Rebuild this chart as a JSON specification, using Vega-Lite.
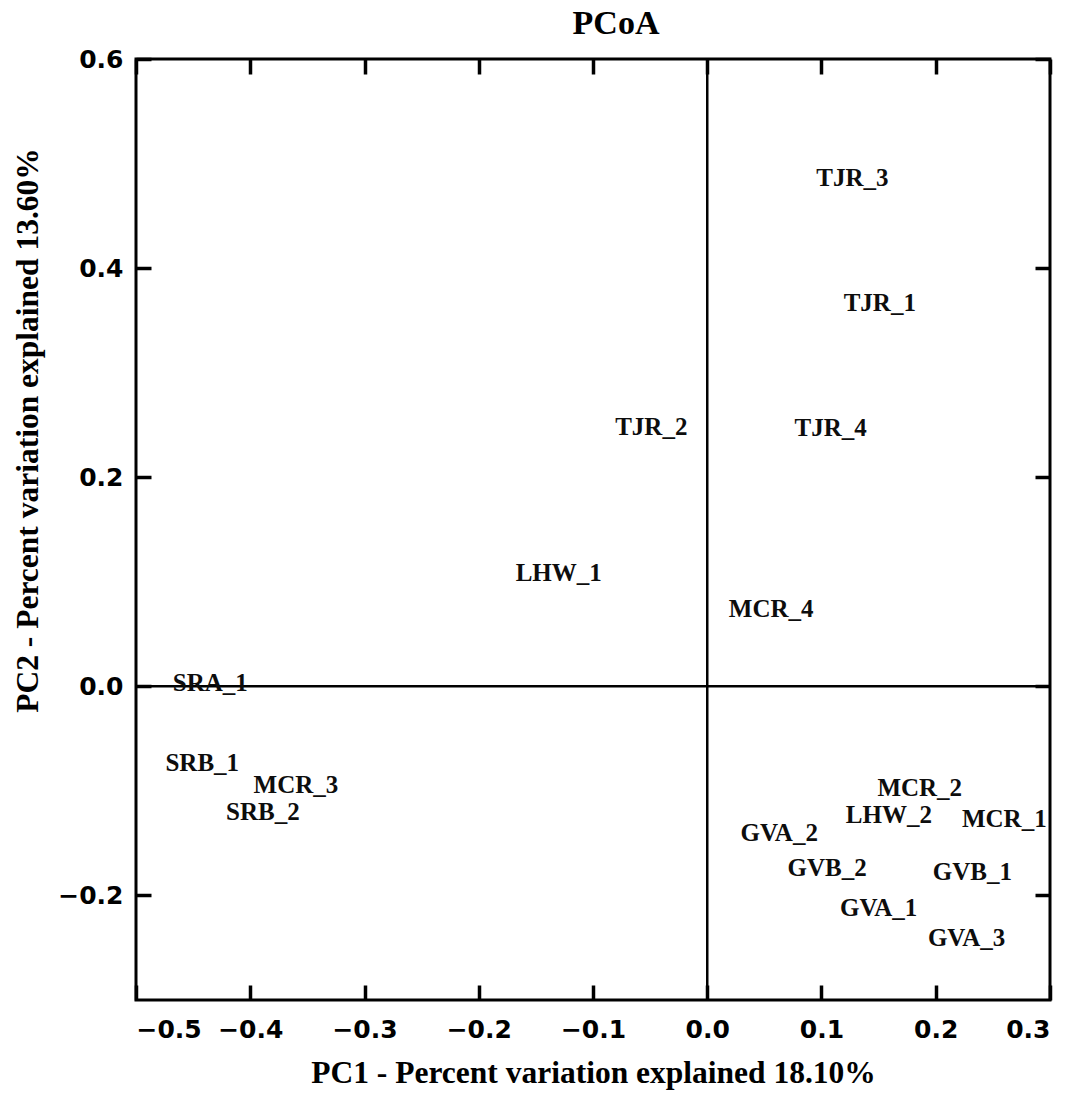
{
  "$schema": "https://vega.github.io/schema/vega-lite/v6.json",
  "width": 914,
  "height": 941,
  "autosize": {"type": "none"},
  "padding": {"left": 136, "top": 59, "right": 31, "bottom": 94},
  "background": "white",
  "config": {
    "view": {"stroke": "black", "strokeWidth": 3},
    "axis": {
      "domain": false,
      "grid": false,
      "tickColor": "black",
      "tickWidth": 3.5,
      "tickSize": -15,
      "labelFont": "DejaVu Sans",
      "labelFontWeight": "bold",
      "labelFontSize": 25,
      "labelColor": "black",
      "titleFont": "Liberation Serif",
      "titleFontWeight": "bold",
      "titleFontSize": 31.5,
      "titleColor": "black"
    }
  },
  "title": {
    "text": "PCoA",
    "font": "Liberation Serif",
    "fontSize": 34,
    "fontWeight": "bold",
    "color": "black",
    "anchor": "middle",
    "dx": 23,
    "offset": 6
  },
  "datasets": {
    "samples": [
      {"sample": "TJR_3", "pc1": 0.127, "pc2": 0.486},
      {"sample": "TJR_1", "pc1": 0.151, "pc2": 0.367},
      {"sample": "TJR_2", "pc1": -0.049, "pc2": 0.248},
      {"sample": "TJR_4", "pc1": 0.108, "pc2": 0.247},
      {"sample": "LHW_1", "pc1": -0.130, "pc2": 0.108},
      {"sample": "MCR_4", "pc1": 0.056, "pc2": 0.074},
      {"sample": "SRA_1", "pc1": -0.435, "pc2": 0.003},
      {"sample": "SRB_1", "pc1": -0.442, "pc2": -0.073},
      {"sample": "MCR_3", "pc1": -0.360, "pc2": -0.094},
      {"sample": "SRB_2", "pc1": -0.389, "pc2": -0.120},
      {"sample": "MCR_2", "pc1": 0.186, "pc2": -0.097},
      {"sample": "LHW_2", "pc1": 0.159, "pc2": -0.123},
      {"sample": "MCR_1", "pc1": 0.260, "pc2": -0.127},
      {"sample": "GVA_2", "pc1": 0.063, "pc2": -0.140},
      {"sample": "GVB_2", "pc1": 0.105, "pc2": -0.174},
      {"sample": "GVB_1", "pc1": 0.232, "pc2": -0.178},
      {"sample": "GVA_1", "pc1": 0.150, "pc2": -0.212},
      {"sample": "GVA_3", "pc1": 0.227, "pc2": -0.241}
    ]
  },
  "layer": [
    {
      "data": {"values": [{}]},
      "mark": {"type": "rule", "color": "black", "strokeWidth": 2.5},
      "encoding": {
        "x": {
          "datum": 0,
          "type": "quantitative",
          "scale": {"domain": [-0.5, 0.3], "nice": false, "zero": false},
          "axis": {
            "orient": "top",
            "values": [-0.5, -0.4, -0.3, -0.2, -0.1, 0, 0.1, 0.2, 0.3],
            "labels": false,
            "title": null
          }
        }
      }
    },
    {
      "data": {"values": [{}]},
      "mark": {"type": "rule", "color": "black", "strokeWidth": 2.5},
      "encoding": {
        "y": {
          "datum": 0,
          "type": "quantitative",
          "scale": {"domain": [-0.3, 0.6], "nice": false, "zero": false},
          "axis": {
            "orient": "right",
            "values": [-0.2, 0, 0.2, 0.4, 0.6],
            "labels": false,
            "title": null
          }
        }
      }
    },
    {
      "data": {"name": "samples"},
      "mark": {
        "type": "text",
        "font": "Liberation Serif",
        "fontWeight": "bold",
        "fontSize": 25,
        "color": "#0d0d0d",
        "align": "center",
        "baseline": "middle"
      },
      "encoding": {
        "x": {
          "field": "pc1",
          "type": "quantitative",
          "scale": {"domain": [-0.5, 0.3], "nice": false, "zero": false},
          "axis": {
            "orient": "bottom",
            "values": [-0.5, -0.4, -0.3, -0.2, -0.1, 0, 0.1, 0.2, 0.3],
            "format": ".1f",
            "labelPadding": 32,
            "title": "PC1 - Percent variation explained 18.10%",
            "titleBaseline": "alphabetic",
            "titleY": 82,
            "titleX": 457,
            "titleAlign": "center"
          }
        },
        "y": {
          "field": "pc2",
          "type": "quantitative",
          "scale": {"domain": [-0.3, 0.6], "nice": false, "zero": false},
          "axis": {
            "orient": "left",
            "values": [-0.2, 0, 0.2, 0.4, 0.6],
            "format": ".1f",
            "labelPadding": 28,
            "title": "PC2 - Percent variation explained 13.60%",
            "titleBaseline": "alphabetic",
            "titleAngle": -90,
            "titleX": -99,
            "titleY": 371,
            "titleAlign": "center"
          }
        },
        "text": {"field": "sample", "type": "nominal"}
      }
    }
  ],
  "resolve": {"axis": {"x": "independent", "y": "independent"}}
}
